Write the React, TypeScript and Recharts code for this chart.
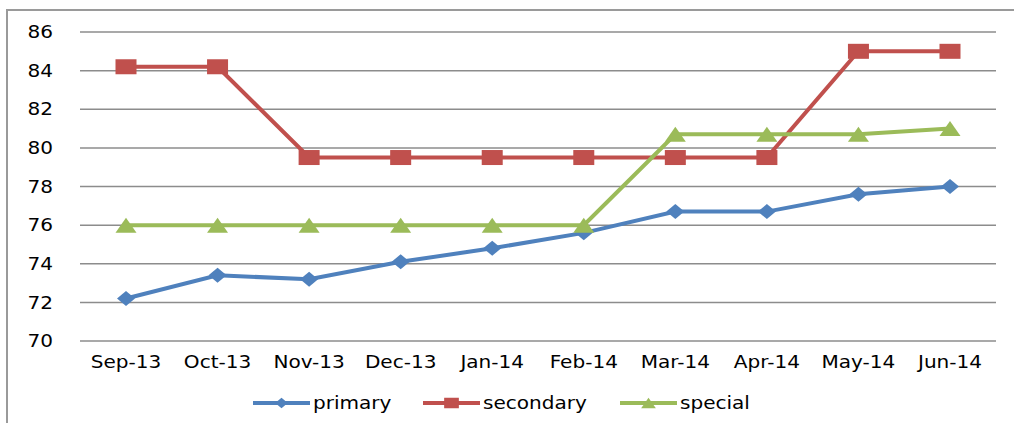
import React from 'react';
import { LineChart, Line, XAxis, YAxis, CartesianGrid, Legend } from 'recharts';

const categories = ['Sep-13', 'Oct-13', 'Nov-13', 'Dec-13', 'Jan-14', 'Feb-14', 'Mar-14', 'Apr-14', 'May-14', 'Jun-14'];
const primary = [72.2, 73.4, 73.2, 74.1, 74.8, 75.6, 76.7, 76.7, 77.6, 78.0];
const secondary = [84.2, 84.2, 79.5, 79.5, 79.5, 79.5, 79.5, 79.5, 85.0, 85.0];
const special = [76, 76, 76, 76, 76, 76, 80.7, 80.7, 80.7, 81.0];
const yTicks = [70, 72, 74, 76, 78, 80, 82, 84, 86];

const seriesNames = ['primary', 'secondary', 'special'];
const colors = ['#4F81BD', '#C0504D', '#9BBB59'];

const data = categories.map((name, i) => ({
  name,
  primary: primary[i],
  secondary: secondary[i],
  special: special[i],
}));

const FONT = '"DejaVu Sans", sans-serif';
const SX = 1.18;

const diamond = (cx: number, cy: number, hw: number, hh: number) =>
  `${cx - hw},${cy} ${cx},${cy - hh} ${cx + hw},${cy} ${cx},${cy + hh}`;
const triangle = (cx: number, cy: number, hw: number, hh: number) =>
  `${cx - hw},${cy + hh} ${cx},${cy - hh} ${cx + hw},${cy + hh}`;

const Marker = ({ kind, cx, cy, color, scale = 1 }: any) => {
  if (kind === 0) return <polygon points={diamond(cx, cy, 9 * scale, 7.5 * scale)} fill={color} />;
  if (kind === 1)
    return <rect x={cx - 10.5 * scale} y={cy - 7.5 * scale} width={21 * scale} height={15 * scale} fill={color} />;
  return <polygon points={triangle(cx, cy, 10.5 * scale, 7.5 * scale)} fill={color} />;
};

const makeDot = (kind: number) => (props: any) => {
  const { cx, cy, index } = props;
  if (cx == null || cy == null) return <g key={index} />;
  return <Marker key={index} kind={kind} cx={cx} cy={cy} color={colors[kind]} />;
};

const YTick = (props: any) => {
  const { x, y, payload } = props;
  return (
    <g transform={`translate(${x},${y})`}>
      <text transform={`scale(${SX},1)`} textAnchor="end" dy="0.36em" fontFamily={FONT} fontSize={17} fill="#000">
        {payload.value}
      </text>
    </g>
  );
};

const XTick = (props: any) => {
  const { x, y, payload } = props;
  return (
    <g transform={`translate(${x},${y})`}>
      <text transform={`scale(${SX},1)`} textAnchor="middle" dy="0.71em" fontFamily={FONT} fontSize={17} fill="#000">
        {payload.value}
      </text>
    </g>
  );
};

const legendItemX = [253, 423, 620];

const LegendContent = () => (
  <svg width={1014} height={24} style={{ display: 'block' }}>
    {seriesNames.map((n, i) => {
      const x0 = legendItemX[i];
      return (
        <g key={n}>
          <line x1={x0} x2={x0 + 57} y1={12} y2={12} stroke={colors[i]} strokeWidth={4} />
          <Marker kind={i} cx={x0 + 28.5} cy={12} color={colors[i]} scale={0.7} />
          <g transform={`translate(${x0 + 60},12)`}>
            <text transform={`scale(${SX},1)`} dy="0.36em" fontFamily={FONT} fontSize={17} fill="#000">
              {n}
            </text>
          </g>
        </g>
      );
    })}
  </svg>
);

export default function App() {
  return (
    <div
      style={{
        position: 'absolute',
        left: 0,
        top: 0,
        width: 1014,
        height: 423,
        overflow: 'hidden',
        background: '#fff',
      }}
    >
      <div
        style={{
          position: 'absolute',
          left: 6,
          top: 9,
          width: 1100,
          height: 500,
          borderLeft: '2px solid #9a9a9a',
          borderTop: '2px solid #9a9a9a',
        }}
      />
      <div style={{ position: 'absolute', left: 0, top: 0 }}>
        <LineChart width={1014} height={423} data={data} margin={{ top: 32, right: 18, bottom: 8, left: 0 }}>
          <CartesianGrid horizontal vertical={false} stroke="#8c8c8c" strokeWidth={1.5} />
          <XAxis
            dataKey="name"
            axisLine={false}
            tickLine={false}
            height={50}
            tickMargin={9}
            padding={{ left: 46, right: 46 }}
            interval={0}
            tick={<XTick />}
          />
          <YAxis
            domain={[70, 86]}
            ticks={yTicks}
            width={80}
            axisLine={false}
            tickLine={false}
            tickMargin={21}
            interval={0}
            tick={<YTick />}
          />
          <Legend
            verticalAlign="bottom"
            height={24}
            content={<LegendContent />}
            wrapperStyle={{ left: 0, width: 1014 }}
          />
          {seriesNames.map((n, i) => (
            <Line
              key={n}
              type="linear"
              dataKey={n}
              stroke={colors[i]}
              strokeWidth={4}
              dot={makeDot(i)}
              activeDot={false}
              isAnimationActive={false}
            />
          ))}
        </LineChart>
      </div>
    </div>
  );
}
